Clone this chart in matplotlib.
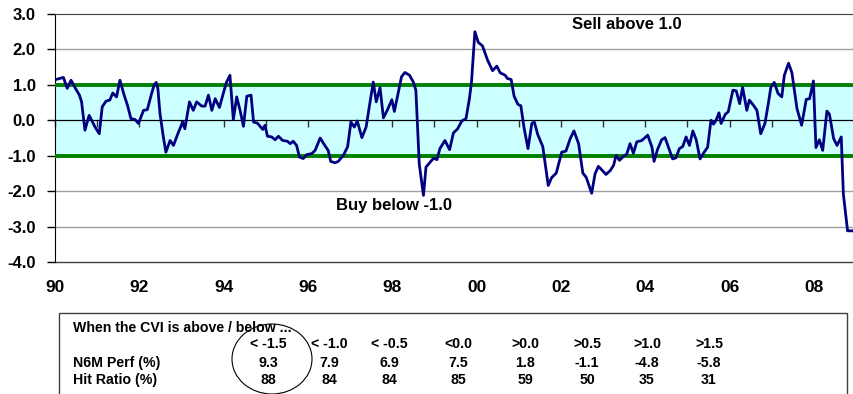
import matplotlib
matplotlib.use("Agg")
import matplotlib.pyplot as plt
from matplotlib.patches import Rectangle, Ellipse

plt.rcParams['font.family'] = ['Liberation Sans', 'DejaVu Sans']
plt.rcParams['font.weight'] = 'bold'

# CVI series (decimal year, index value)
cvi_dates = [
    1990.02, 1990.20, 1990.29, 1990.38, 1990.50, 1990.58, 1990.63, 1990.71, 1990.81, 1990.95,
    1991.05, 1991.12, 1991.21, 1991.30, 1991.37, 1991.46, 1991.54, 1991.64, 1991.72, 1991.80,
    1991.90, 1991.98, 1992.10, 1992.19, 1992.29, 1992.35, 1992.40, 1992.44, 1992.49, 1992.57,
    1992.63, 1992.73, 1992.81, 1992.93, 1993.03, 1993.08, 1993.19, 1993.28, 1993.36, 1993.48,
    1993.56, 1993.64, 1993.72, 1993.80, 1993.90, 1993.99, 1994.07, 1994.15, 1994.23, 1994.31,
    1994.39, 1994.47, 1994.55, 1994.65, 1994.71, 1994.80, 1994.93, 1994.98, 1995.04, 1995.14,
    1995.22, 1995.30, 1995.40, 1995.51, 1995.58, 1995.65, 1995.73, 1995.80, 1995.89, 1995.97,
    1996.09, 1996.17, 1996.29, 1996.40, 1996.48, 1996.54, 1996.64, 1996.72, 1996.84, 1996.94,
    1997.02, 1997.10, 1997.17, 1997.28, 1997.38, 1997.46, 1997.55, 1997.62, 1997.71, 1997.79,
    1997.88, 1997.99, 1998.05, 1998.17, 1998.22, 1998.30, 1998.41, 1998.50, 1998.56, 1998.64,
    1998.74, 1998.80, 1998.90, 1998.98, 1999.06, 1999.13, 1999.25, 1999.36, 1999.45, 1999.55,
    1999.65, 1999.75, 1999.83, 1999.88, 1999.96, 2000.04, 2000.14, 2000.26, 2000.38, 2000.48,
    2000.56, 2000.68, 2000.73, 2000.82, 2000.89, 2000.98, 2001.05, 2001.13, 2001.22, 2001.31,
    2001.37, 2001.45, 2001.57, 2001.70, 2001.78, 2001.89, 2002.02, 2002.12, 2002.22, 2002.31,
    2002.42, 2002.52, 2002.60, 2002.73, 2002.81, 2002.89, 2002.97, 2003.07, 2003.17, 2003.25,
    2003.31, 2003.39, 2003.48, 2003.56, 2003.64, 2003.72, 2003.80, 2003.92, 2004.06, 2004.16,
    2004.21, 2004.29, 2004.39, 2004.47, 2004.55, 2004.65, 2004.73, 2004.81, 2004.89, 2004.97,
    2005.05, 2005.13, 2005.21, 2005.30, 2005.40, 2005.48, 2005.56, 2005.62, 2005.68, 2005.75,
    2005.80, 2005.90, 2005.97, 2006.08, 2006.16, 2006.24, 2006.31, 2006.41, 2006.47, 2006.57,
    2006.65, 2006.74, 2006.84, 2006.92, 2006.98, 2007.06, 2007.15, 2007.24, 2007.30, 2007.40,
    2007.48, 2007.60, 2007.71, 2007.82, 2007.90, 2007.99, 2008.05, 2008.13, 2008.21, 2008.31,
    2008.37, 2008.47, 2008.55, 2008.65, 2008.70, 2008.80, 2008.90,
]
cvi_values = [
    1.15, 1.21, 0.90, 1.13, 0.87, 0.71, 0.52, -0.28, 0.14, -0.19,
    -0.38, 0.38, 0.54, 0.57, 0.77, 0.66, 1.13, 0.71, 0.42, 0.05,
    0.02, -0.09, 0.28, 0.30, 0.75, 0.99, 1.07, 0.90, 0.19, -0.47,
    -0.90, -0.57, -0.71, -0.33, -0.05, -0.24, 0.52, 0.28, 0.52, 0.40,
    0.40, 0.71, 0.28, 0.61, 0.36, 0.75, 1.08, 1.27, 0.02, 0.66,
    0.28, -0.17, 0.68, 0.71, -0.05, -0.08, -0.26, -0.14, -0.45, -0.47,
    -0.55, -0.45, -0.57, -0.59, -0.66, -0.59, -0.71, -1.04, -1.08, -0.97,
    -0.94, -0.85, -0.50, -0.71, -0.85, -1.16, -1.20, -1.16, -0.99, -0.75,
    -0.05, -0.19, -0.02, -0.49, -0.19, 0.42, 1.08, 0.52, 0.92, 0.07,
    0.28, 0.58, 0.25, 0.94, 1.23, 1.35, 1.27, 1.08, 0.85, -1.23,
    -2.12, -1.32, -1.18, -1.07, -1.11, -0.80, -0.57, -0.83, -0.36, -0.24,
    -0.02, 0.05, 0.61, 1.09, 2.50, 2.20, 2.10, 1.70, 1.40, 1.53,
    1.34, 1.27, 1.18, 1.15, 0.68, 0.45, 0.41, -0.24, -0.80, -0.09,
    -0.05, -0.40, -0.74, -1.84, -1.62, -1.49, -0.90, -0.87, -0.52, -0.30,
    -0.66, -1.49, -1.61, -2.06, -1.51, -1.30, -1.40, -1.53, -1.42, -1.27,
    -0.99, -1.13, -1.02, -0.96, -0.66, -0.93, -0.61, -0.57, -0.42, -0.76,
    -1.16, -0.83, -0.55, -0.49, -0.76, -1.09, -1.06, -0.80, -0.74, -0.47,
    -0.71, -0.30, -0.55, -1.09, -0.90, -0.76, 0.00, -0.11, 0.00, 0.21,
    -0.09, 0.17, 0.24, 0.85, 0.83, 0.47, 0.93, 0.28, 0.57, 0.42,
    0.28, -0.38, -0.09, 0.47, 0.93, 1.07, 0.76, 0.66, 1.27, 1.61,
    1.34, 0.33, -0.14, 0.59, 0.61, 1.11, -0.77, -0.55, -0.85, 0.26,
    0.17, -0.52, -0.71, -0.47, -2.08, -3.12, -3.12,
]

sell_level = 1.0
buy_level = -1.0

year_ticks = [1990, 1992, 1994, 1996, 1998, 2000, 2002, 2004, 2006, 2008]
year_labels = ['90', '92', '94', '96', '98', '00', '02', '04', '06', '08']
value_ticks = [3, 2, 1, 0, -1, -2, -3, -4]
value_labels = ['3.0', '2.0', '1.0', '0.0', '-1.0', '-2.0', '-3.0', '-4.0']

# Summary table
table_title = 'When the CVI is above / below ...'
table_columns = ['< -1.5', '< -1.0', '< -0.5', '<0.0', '>0.0', '>0.5', '>1.0', '>1.5']
row_names = ['N6M Perf (%)', 'Hit Ratio (%)']
n6m_perf = ['9.3', '7.9', '6.9', '7.5', '1.8', '-1.1', '-4.8', '-5.8']
hit_ratio = ['88', '84', '84', '85', '59', '50', '35', '31']

W, H = 854, 394
fig = plt.figure(figsize=(W / 100, H / 100), dpi=100)

def fx(px):
    return px / W

def fy(py):
    return (H - py) / H

ax = fig.add_axes([fx(55), fy(262), (856 - 55) / W, (262 - 14) / H])
ax.set_xlim(1990, 2009)
ax.set_ylim(-4, 3)

# neutral band and signal thresholds
ax.axhspan(buy_level, sell_level, color='#CCFFFF', zorder=0)
for yv in [-3, -2, 2]:
    ax.axhline(yv, color='#A0A0A0', lw=1.0, zorder=1)
ax.axhline(sell_level, color='#008000', lw=2.8, zorder=3)
ax.axhline(buy_level, color='#008000', lw=2.8, zorder=3)

ax.plot(cvi_dates, cvi_values, color='#000080', lw=2.0, zorder=4,
        solid_joinstyle='round')

# spines: axis crossing at zero, framed top
ax.spines['right'].set_visible(False)
ax.spines['top'].set_color('#404040')
ax.spines['left'].set_color('black')
ax.spines['bottom'].set_position(('data', 0))
ax.spines['bottom'].set_color('black')
ax.spines['bottom'].set_linewidth(0.9)
ax.spines['bottom'].set_zorder(2)

ax.set_xticks(range(1990, 2010))
ax.tick_params(axis='x', direction='out', length=5, width=1, labelbottom=False,
               color='#333333')
ax.set_yticks(value_ticks)
ax.set_yticklabels(value_labels, fontsize=12, fontweight='bold')
ax.tick_params(axis='y', direction='out', length=6, width=1, pad=8)

sec = ax.secondary_xaxis(0.0)
sec.set_xticks(year_ticks)
sec.set_xticklabels(year_labels, fontsize=12.5, fontweight='bold')
sec.tick_params(length=0, pad=13)
sec.spines['bottom'].set_color('#404040')
sec.spines['bottom'].set_linewidth(1.0)

ax.text(2003.57, 2.69, 'Sell above 1.0', ha='center', va='center',
        fontsize=12, fontweight='bold', zorder=5)
ax.text(1998.04, -2.41, 'Buy below -1.0', ha='center', va='center',
        fontsize=12, fontweight='bold', zorder=5)

# table box
fig.patches.append(Rectangle((fx(59), fy(398)), fx(847) - fx(59), fy(313) - fy(398),
                             transform=fig.transFigure, fill=False,
                             edgecolor='#404040', lw=1.0))

tfs = 10.2
fig.text(fx(73), fy(328), table_title, ha='left', va='center', fontsize=tfs,
         fontweight='bold')
col_x = [268, 329, 389, 458, 525, 587, 647, 709]
row_y = [363, 380]
for name, yy in zip(row_names, row_y):
    fig.text(fx(73), fy(yy), name, ha='left', va='center', fontsize=tfs,
             fontweight='bold')
for cx, head, perf, hit in zip(col_x, table_columns, n6m_perf, hit_ratio):
    fig.text(fx(cx), fy(344), head, ha='center', va='center', fontsize=tfs,
             fontweight='bold')
    fig.text(fx(cx), fy(row_y[0]), perf, ha='center', va='center', fontsize=tfs,
             fontweight='bold')
    fig.text(fx(cx), fy(row_y[1]), hit, ha='center', va='center', fontsize=tfs,
             fontweight='bold')

# hand-drawn style circle around the first column
fig.patches.append(Ellipse((fx(272), fy(359)), 80 / W, 70 / H, angle=0,
                           transform=fig.transFigure, fill=False,
                           edgecolor='black', lw=0.8))

fig.savefig('out.png', dpi=100)
